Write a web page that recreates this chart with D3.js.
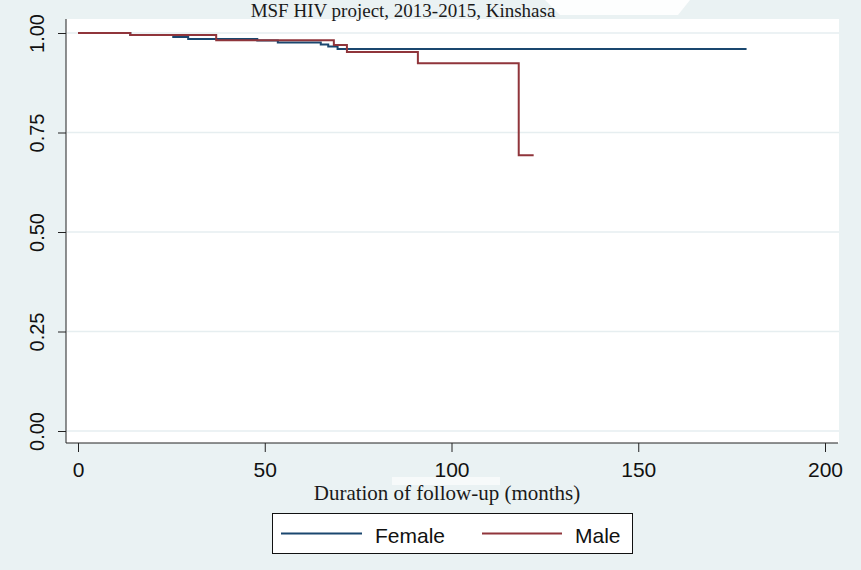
<!DOCTYPE html>
<html>
<head>
<meta charset="utf-8">
<script src="https://cdn.jsdelivr.net/npm/d3@7"></script>
<style>
  html, body { margin: 0; padding: 0; background: #eaf2f3; }
  svg { display: block; }
</style>
</head>
<body>
<div id="chart"></div>
<script>
// ---- data (Kaplan-Meier estimates) ----
const femaleTime = [0, 14, 25.5, 29.5, 48, 53.5, 65, 67, 69.5, 179];
const femaleSurv = [1.0, 0.995, 0.99, 0.985, 0.981, 0.976, 0.971, 0.966, 0.96, 0.96];
const maleTime = [0, 14, 37, 68.5, 72, 91, 118, 122];
const maleSurv = [1.0, 0.995, 0.982, 0.97, 0.952, 0.924, 0.693, 0.693];
const xTicks = [0, 50, 100, 150, 200];
const yTicks = [0, 0.25, 0.5, 0.75, 1];
const seriesNames = ["Female", "Male"];
const titleText = "MSF HIV project, 2013-2015, Kinshasa";
const xAxisTitle = "Duration of follow-up (months)";

const W = 861, H = 570;
const colors = { Female: "#1a476f", Male: "#90353b" };

const svg = d3.select("#chart").append("svg")
  .attr("width", W).attr("height", H);

svg.append("rect").attr("width", W).attr("height", H).attr("fill", "#eaf2f3");

// white smudge near the title
svg.append("path")
  .attr("d", "M545,0 L690,0 L678,15 L560,15 Z")
  .attr("fill", "#ffffff").attr("opacity", 0.9);

// plot region
const plot = { left: 66, right: 839, top: 19, bottom: 443 };
svg.append("rect")
  .attr("x", plot.left).attr("y", plot.top)
  .attr("width", plot.right - plot.left).attr("height", plot.bottom - plot.top)
  .attr("fill", "#ffffff");

const x = d3.scaleLinear().domain([0, 200]).range([78, 825]);
const y = d3.scaleLinear().domain([0, 1]).range([431, 33]);

// gridlines
svg.append("g").selectAll("line").data(yTicks).join("line")
  .attr("x1", plot.left + 1).attr("x2", plot.right)
  .attr("y1", d => y(d)).attr("y2", d => y(d))
  .attr("stroke", "#e6eef0").attr("stroke-width", 1.5);

// title
svg.append("text")
  .attr("x", 403).attr("y", 17)
  .attr("text-anchor", "middle")
  .attr("font-family", "'Liberation Serif', 'Times New Roman', serif")
  .attr("font-size", 19).attr("fill", "#1a1a1a")
  .text(titleText);

// y axis
const yAxis = d3.axisLeft(y).tickValues(yTicks).tickSize(8).tickPadding(0)
  .tickFormat(d3.format(".2f"));
const gy = svg.append("g").attr("transform", `translate(${plot.left},0)`).call(yAxis);
gy.select(".domain").attr("d", `M0,${plot.top}V${plot.bottom}`).attr("stroke", "#222");
gy.selectAll(".tick line").attr("stroke", "#222");
gy.selectAll(".tick text")
  .attr("x", 0).attr("y", 0).attr("dy", null)
  .attr("transform", `translate(${44 - plot.left},0) rotate(-90)`)
  .attr("text-anchor", "middle")
  .attr("font-family", "'Liberation Sans', Arial, sans-serif")
  .attr("font-size", 20).attr("fill", "#111");

// faint smudge behind x-axis title area
svg.append("rect").attr("x", 392).attr("y", 477).attr("width", 108).attr("height", 8)
  .attr("fill", "#ffffff").attr("opacity", 0.6);

// x axis
const xAxis = d3.axisBottom(x).tickValues(xTicks).tickSize(9).tickPadding(10);
const gx = svg.append("g").attr("transform", `translate(0,${plot.bottom})`).call(xAxis);
gx.select(".domain").attr("d", `M${plot.left},0H${plot.right - 1}`).attr("stroke", "#222");
gx.selectAll(".tick line").attr("stroke", "#222");
gx.selectAll(".tick text")
  .attr("font-family", "'Liberation Sans', Arial, sans-serif")
  .attr("font-size", 21).attr("fill", "#111");

svg.append("text")
  .attr("x", 447).attr("y", 500)
  .attr("text-anchor", "middle")
  .attr("font-family", "'Liberation Serif', 'Times New Roman', serif")
  .attr("font-size", 21).attr("fill", "#1a1a1a")
  .text(xAxisTitle);

// curves
const line = d3.line().x(d => x(d[0])).y(d => y(d[1])).curve(d3.curveStepAfter);
const femaleData = femaleTime.map((t, i) => [t, femaleSurv[i]]);
const maleData = maleTime.map((t, i) => [t, maleSurv[i]]);

svg.append("path").datum(femaleData)
  .attr("d", line).attr("fill", "none")
  .attr("stroke", colors.Female).attr("stroke-width", 2);
svg.append("path").datum(maleData)
  .attr("d", line).attr("fill", "none")
  .attr("stroke", colors.Male).attr("stroke-width", 2);

// legend
const lg = svg.append("g");
lg.append("rect").attr("x", 272.5).attr("y", 513.5).attr("width", 360).attr("height", 40)
  .attr("fill", "#ffffff").attr("stroke", "#111").attr("stroke-width", 1);
const legendItems = [
  { name: seriesNames[0], x1: 281, x2: 362, tx: 375 },
  { name: seriesNames[1], x1: 482, x2: 562, tx: 575 }
];
legendItems.forEach(it => {
  lg.append("line").attr("x1", it.x1).attr("x2", it.x2)
    .attr("y1", 533.5).attr("y2", 533.5)
    .attr("stroke", colors[it.name]).attr("stroke-width", 2);
  lg.append("text").attr("x", it.tx).attr("y", 543)
    .attr("font-family", "'Liberation Sans', Arial, sans-serif")
    .attr("font-size", 21).attr("fill", "#111")
    .text(it.name);
});
</script>
</body>
</html>
